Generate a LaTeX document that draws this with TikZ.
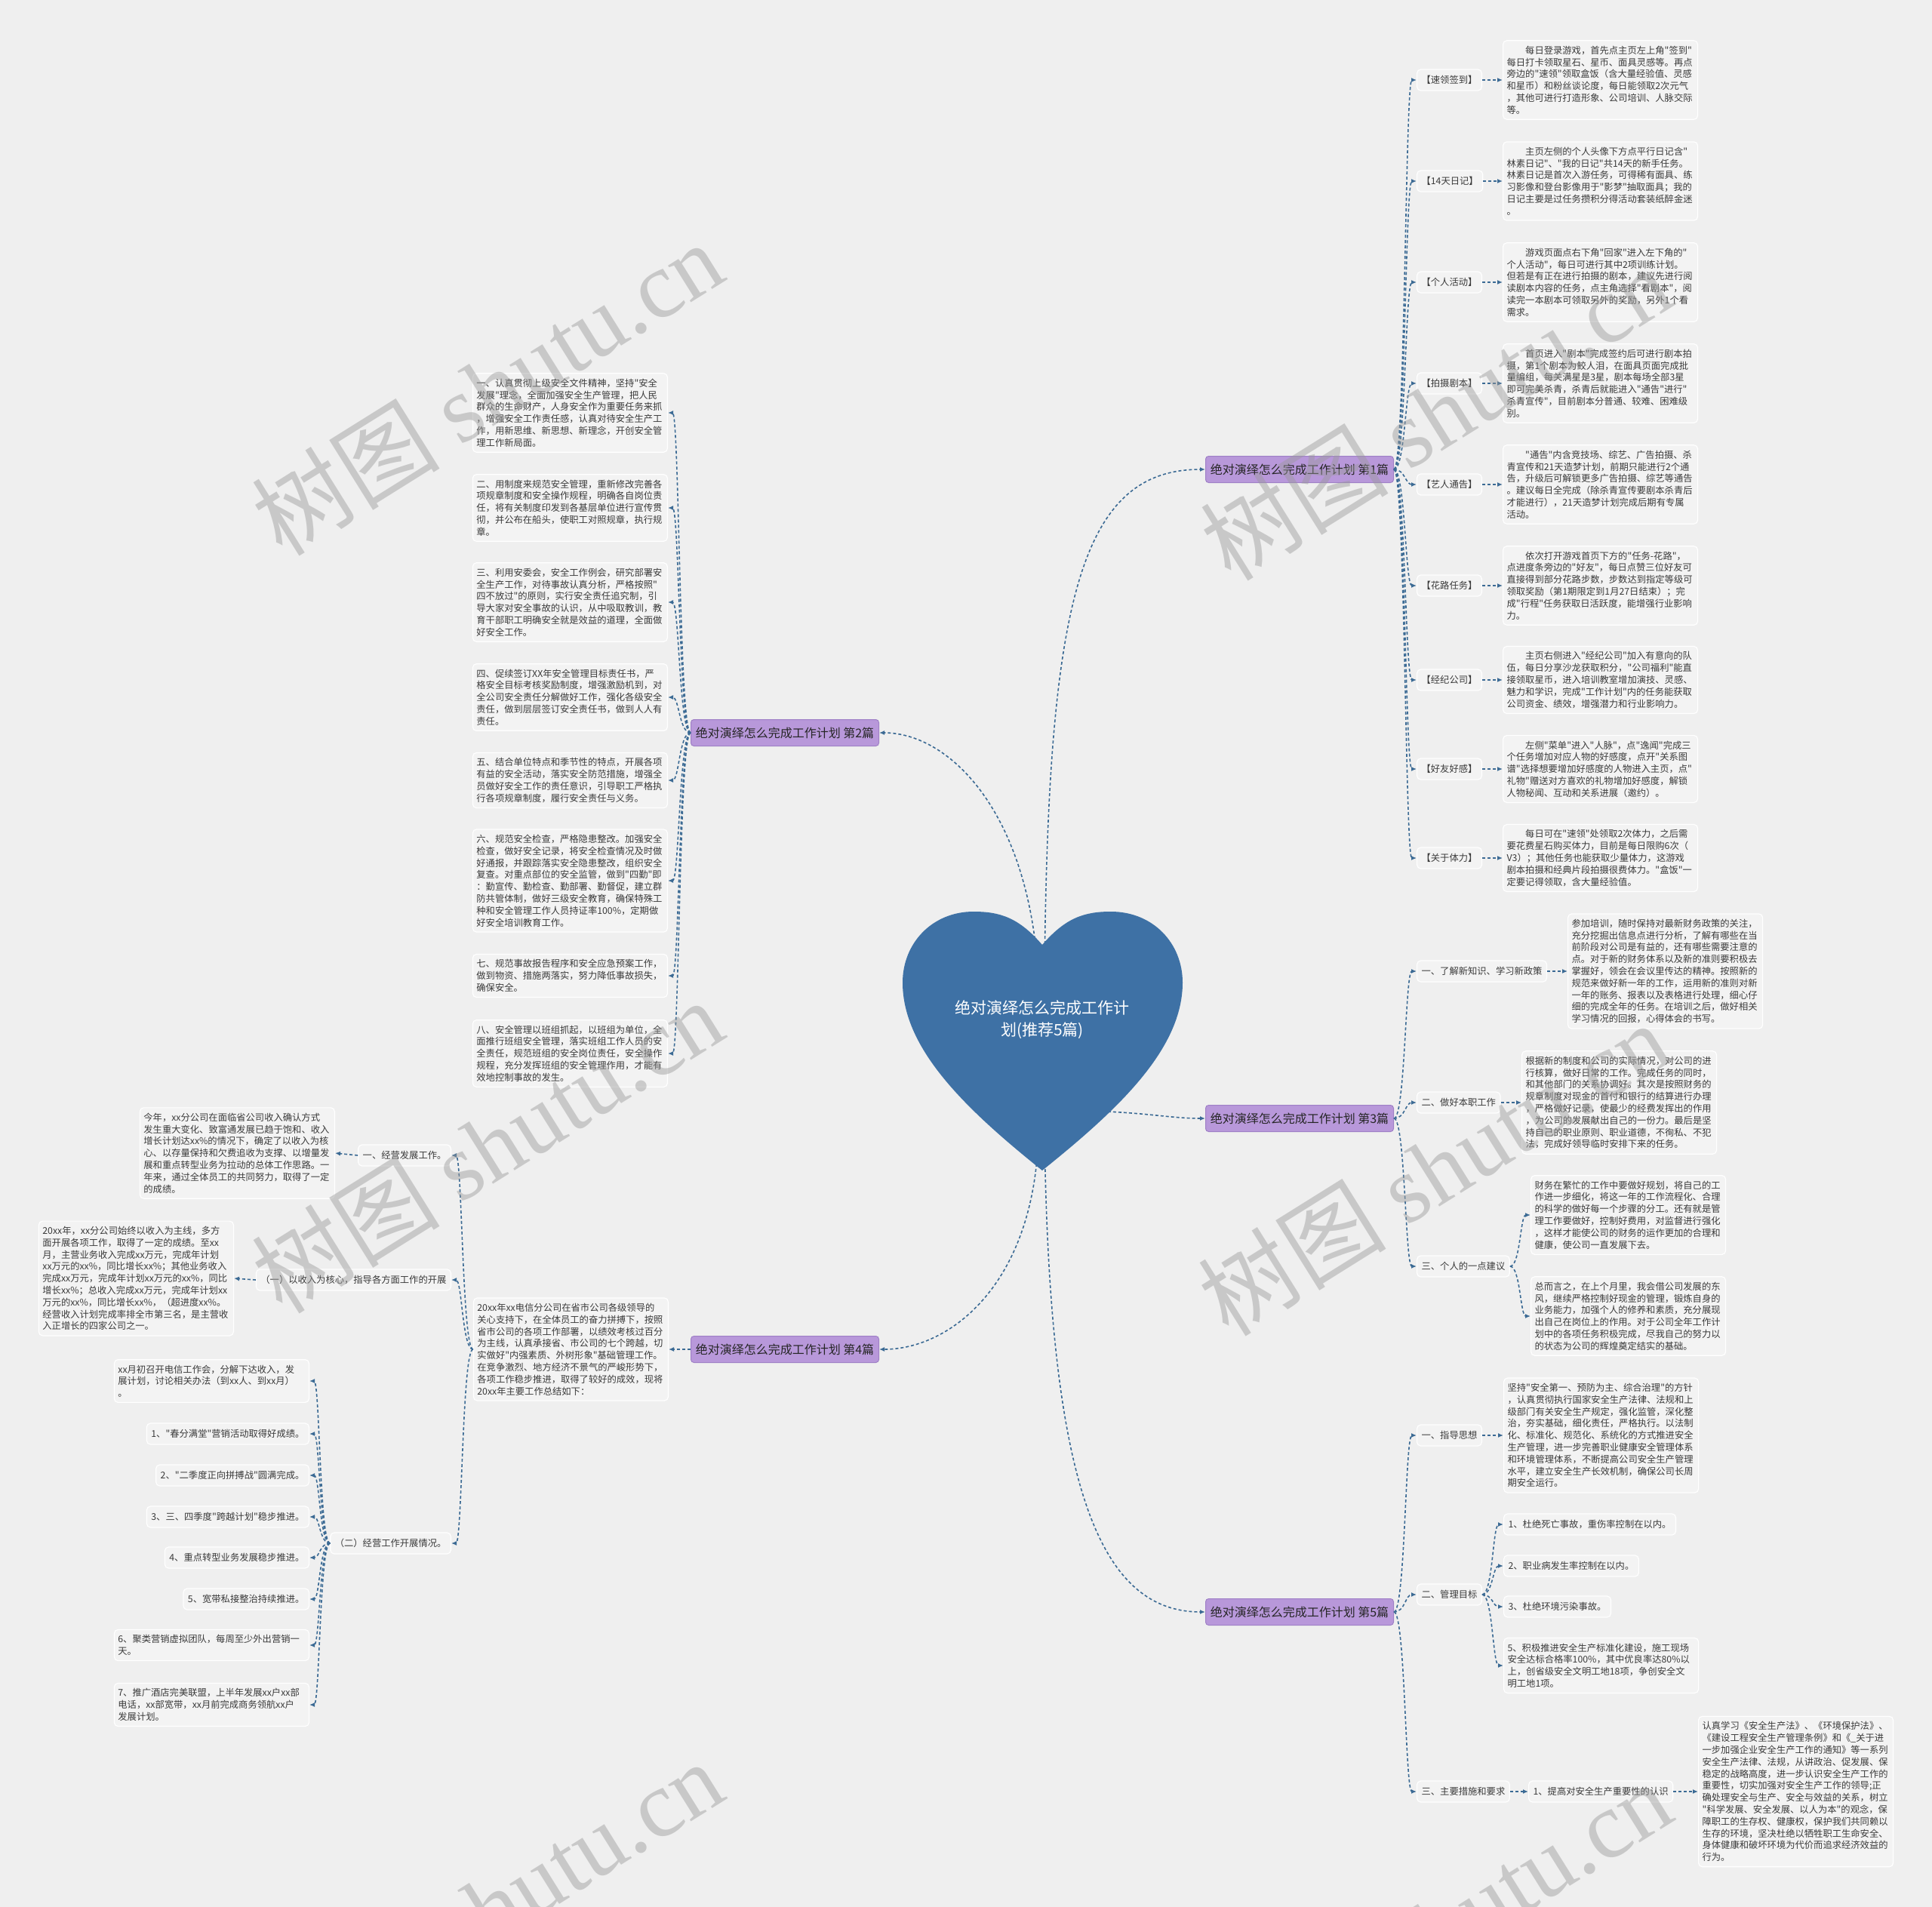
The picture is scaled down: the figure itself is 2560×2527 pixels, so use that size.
\documentclass[tikz,border=0pt]{standalone}
\usepackage{fontspec}
\setmainfont{Noto Sans CJK SC}[Ligatures=TeXOff]
\newfontfamily\wmlatin{Liberation Serif}
\usetikzlibrary{arrows.meta,calc}
\definecolor{bgc}{HTML}{EFEFEF}
\definecolor{boxc}{HTML}{F3F3F3}
\definecolor{txtc}{HTML}{3A3A3A}
\definecolor{linec}{HTML}{3B6A94}
\definecolor{brfill}{HTML}{B898DA}
\definecolor{brdraw}{HTML}{9F80C6}
\definecolor{heartc}{HTML}{3E71A5}
\definecolor{wmc}{HTML}{9A9A9A}
\newcommand\leaffont{\fontsize{12.3pt}{15.8pt}\selectfont}
\newcommand\lblfont{\fontsize{12.3pt}{15pt}\selectfont}
\newcommand\brfont{\fontsize{16pt}{18pt}\selectfont}
\newcommand\htitlefont{\fontsize{21pt}{29pt}\selectfont}
\newcommand\myind{\hspace*{2em}}
\tikzset{
  leaf/.style={draw=white, line width=1.2pt, fill=boxc, rounded corners=5pt, text width=248pt, inner xsep=5pt, inner ysep=7pt, align=left, font=\leaffont, text=txtc},
  lbl/.style={draw=white, line width=1.2pt, fill=boxc, rounded corners=5pt, inner xsep=6pt, inner ysep=0pt, minimum height=28pt, font=\lblfont, text=txtc},
  brn/.style={draw=brdraw, line width=1pt, fill=brfill, rounded corners=4pt, minimum width=249pt, minimum height=35pt, inner sep=0pt, font=\brfont, text=black!85},
  conn/.style={draw=linec, line width=1.6pt, dash pattern=on 4pt off 3pt, -{Latex[length=7pt,width=6pt]}},
  sc/.style={to path={let \p1=(\tikztostart), \p2=(\tikztotarget) in .. controls ({0.5*\x1+0.5*\x2},\y1) and ({0.5*\x1+0.5*\x2},\y2) .. (\tikztotarget)}},
  wm/.style={text=wmc, opacity=0.45, rotate=32, font=\fontsize{125pt}{125pt}\selectfont, inner sep=0pt}
}
\begin{document}
\begin{tikzpicture}[x=1pt,y=-1pt]
\useasboundingbox (0,0) rectangle (2560,2527);
\fill[bgc] (0,0) rectangle (2560,2527);

% branch nodes
\node[brn] (b1) at (1722,622) {绝对演绎怎么完成工作计划 第1篇};
\node[brn] (b2) at (1040,971) {绝对演绎怎么完成工作计划 第2篇};
\node[brn] (b3) at (1722,1482) {绝对演绎怎么完成工作计划 第3篇};
\node[brn] (b4) at (1040,1788) {绝对演绎怎么完成工作计划 第4篇};
\node[brn] (b5) at (1722,2136) {绝对演绎怎么完成工作计划 第5篇};

% heart connectors
\coordinate (hin1) at (1384,1300);
\coordinate (hin1b) at (1376,1300);
\coordinate (hin2) at (1384,1500);
\coordinate (hin2b) at (1376,1500);
\coordinate (hin3) at (1440,1472);
\draw[conn] (hin1) .. controls (1388,800) and (1430,622) .. (b1.west);
\draw[conn] (hin1b) .. controls (1366,1080) and (1260,971) .. (b2.east);
\draw[conn] (hin3) .. controls (1520,1474) and (1550,1482) .. (b3.west);
\draw[conn] (hin2b) .. controls (1372,1700) and (1260,1788) .. (b4.east);
\draw[conn] (hin2) .. controls (1390,1950) and (1450,2136) .. (b5.west);

% heart
\fill[heartc]
  (1381,1252) .. controls (1350,1216) and (1325,1208) .. (1290,1208)
  .. controls (1235,1208) and (1196,1250) .. (1196,1302)
  .. controls (1196,1390) and (1280,1470) .. (1381,1551)
  .. controls (1482,1470) and (1567,1390) .. (1567,1302)
  .. controls (1567,1250) and (1528,1208) .. (1472,1208)
  .. controls (1437,1208) and (1412,1216) .. (1381,1252) -- cycle;
\node[text=white, font=\htitlefont, align=center] (ctr) at (1381,1351) {绝对演绎怎么完成工作计\\划(推荐5篇)};

% ---------- 第1篇 ----------
\node[lbl, anchor=west] (a1) at (1877,106) {【速领签到】};
\node[lbl, anchor=west] (a2) at (1877,240) {【14天日记】};
\node[lbl, anchor=west] (a3) at (1877,374) {【个人活动】};
\node[lbl, anchor=west] (a4) at (1877,508) {【拍摄剧本】};
\node[lbl, anchor=west] (a5) at (1877,642) {【艺人通告】};
\node[lbl, anchor=west] (a6) at (1877,776) {【花路任务】};
\node[lbl, anchor=west] (a7) at (1877,901) {【经纪公司】};
\node[lbl, anchor=west] (a8) at (1877,1019) {【好友好感】};
\node[lbl, anchor=west] (a9) at (1877,1137) {【关于体力】};

\node[leaf, anchor=west] (ta1) at (1991,106) {\myind 每日登录游戏，首先点主页左上角"签到"\\每日打卡领取星石、星币、面具灵感等。再点\\旁边的"速领"领取盒饭（含大量经验值、灵感\\和星币）和粉丝谈论度，每日能领取2次元气\\，其他可进行打造形象、公司培训、人脉交际\\等。};
\node[leaf, anchor=west] (ta2) at (1991,240) {\myind 主页左侧的个人头像下方点平行日记含"\\林素日记"、"我的日记"共14天的新手任务。\\林素日记是首次入游任务，可得稀有面具、练\\习影像和登台影像用于"影梦"抽取面具；我的\\日记主要是过任务攒积分得活动套装纸醉金迷\\。};
\node[leaf, anchor=west] (ta3) at (1991,374) {\myind 游戏页面点右下角"回家"进入左下角的"\\个人活动"，每日可进行其中2项训练计划。\\但若是有正在进行拍摄的剧本，建议先进行阅\\读剧本内容的任务，点主角选择"看剧本"，阅\\读完一本剧本可领取另外的奖励，另外1个看\\需求。};
\node[leaf, anchor=west] (ta4) at (1991,508) {\myind 首页进入"剧本"完成签约后可进行剧本拍\\摄，第1个剧本为鲛人泪，在面具页面完成批\\量编组，每关满星是3星，剧本每场全部3星\\即可完美杀青，杀青后就能进入"通告"进行"\\杀青宣传"，目前剧本分普通、较难、困难级\\别。};
\node[leaf, anchor=west] (ta5) at (1991,642) {\myind "通告"内含竞技场、综艺、广告拍摄、杀\\青宣传和21天造梦计划，前期只能进行2个通\\告，升级后可解锁更多广告拍摄、综艺等通告\\。建议每日全完成（除杀青宣传要剧本杀青后\\才能进行），21天造梦计划完成后期有专属\\活动。};
\node[leaf, anchor=west] (ta6) at (1991,776) {\myind 依次打开游戏首页下方的"任务\mbox{-}花路"，\\点进度条旁边的"好友"，每日点赞三位好友可\\直接得到部分花路步数，步数达到指定等级可\\领取奖励（第1期限定到1月27日结束）；完\\成"行程"任务获取日活跃度，能增强行业影响\\力。};
\node[leaf, anchor=west] (ta7) at (1991,901) {\myind 主页右侧进入"经纪公司"加入有意向的队\\伍，每日分享沙龙获取积分，"公司福利"能直\\接领取星币，进入培训教室增加演技、灵感、\\魅力和学识，完成"工作计划"内的任务能获取\\公司资金、绩效，增强潜力和行业影响力。};
\node[leaf, anchor=west] (ta8) at (1991,1019) {\myind 左侧"菜单"进入"人脉"，点"逸闻"完成三\\个任务增加对应人物的好感度，点开"关系图\\谱"选择想要增加好感度的人物进入主页，点"\\礼物"赠送对方喜欢的礼物增加好感度，解锁\\人物秘闻、互动和关系进展（邀约）。};
\node[leaf, anchor=west] (ta9) at (1991,1137) {\myind 每日可在"速领"处领取2次体力，之后需\\要花费星石购买体力，目前是每日限购6次（\\V3）；其他任务也能获取少量体力，这游戏\\剧本拍摄和经典片段拍摄很费体力。"盒饭"一\\定要记得领取，含大量经验值。};

\foreach \q in {a1,a2,a3,a4,a5,a6,a7,a8,a9} {
  \draw[conn] (b1.east) to[sc] (\q.west);
  \draw[conn] (\q.east) -- (t\q.west);
}

% ---------- 第3篇 ----------
\node[lbl, anchor=west] (c1) at (1877,1287) {一、了解新知识、学习新政策};
\node[lbl, anchor=west] (c2) at (1877,1461) {二、做好本职工作};
\node[lbl, anchor=west] (c3) at (1877,1678) {三、个人的一点建议};
\node[leaf, anchor=west] (tc1) at (2077,1287) {参加培训，随时保持对最新财务政策的关注，\\充分挖掘出信息点进行分析，了解有哪些在当\\前阶段对公司是有益的，还有哪些需要注意的\\点。对于新的财务体系以及新的准则要积极去\\掌握好，领会在会议里传达的精神。按照新的\\规范来做好新一年的工作，运用新的准则对新\\一年的账务、报表以及表格进行处理，细心仔\\细的完成全年的任务。在培训之后，做好相关\\学习情况的回报，心得体会的书写。};
\node[leaf, anchor=west] (tc2) at (2016,1461) {根据新的制度和公司的实际情况，对公司的进\\行核算，做好日常的工作。完成任务的同时，\\和其他部门的关系协调好。其次是按照财务的\\规章制度对现金的首付和银行的结算进行办理\\，严格做好记录，使最少的经费发挥出的作用\\，为公司的发展献出自己的一份力。最后是坚\\持自己的职业原则、职业道德，不徇私、不犯\\法，完成好领导临时安排下来的任务。};
\node[leaf, anchor=west] (tc3a) at (2028,1610) {财务在繁忙的工作中要做好规划，将自己的工\\作进一步细化，将这一年的工作流程化、合理\\的科学的做好每一个步骤的分工。还有就是管\\理工作要做好，控制好费用，对监督进行强化\\，这样才能使公司的财务的运作更加的合理和\\健康，使公司一直发展下去。};
\node[leaf, anchor=west] (tc3b) at (2028,1744) {总而言之，在上个月里，我会借公司发展的东\\风，继续严格控制好现金的管理，锻炼自身的\\业务能力，加强个人的修养和素质，充分展现\\出自己在岗位上的作用。对于公司全年工作计\\划中的各项任务积极完成，尽我自己的努力以\\的状态为公司的辉煌奠定结实的基础。};
\foreach \q in {c1,c2,c3} { \draw[conn] (b3.east) to[sc] (\q.west); }
\draw[conn] (c1.east) -- (tc1.west);
\draw[conn] (c2.east) -- (tc2.west);
\draw[conn] (c3.east) to[sc] (tc3a.west);
\draw[conn] (c3.east) to[sc] (tc3b.west);

% ---------- 第5篇 ----------
\node[lbl, anchor=west] (e1) at (1877,1902) {一、指导思想};
\node[lbl, anchor=west] (e2) at (1877,2113) {二、管理目标};
\node[lbl, anchor=west] (e3) at (1877,2374) {三、主要措施和要求};
\node[leaf, anchor=west] (te1) at (1992,1902) {坚持"安全第一、预防为主、综合治理"的方针\\，认真贯彻执行国家安全生产法律、法规和上\\级部门有关安全生产规定，强化监管，深化整\\治，夯实基础，细化责任，严格执行。以法制\\化、标准化、规范化、系统化的方式推进安全\\生产管理，进一步完善职业健康安全管理体系\\和环境管理体系，不断提高公司安全生产管理\\水平，建立安全生产长效机制，确保公司长周\\期安全运行。};
\node[lbl, anchor=west] (e2a) at (1992,2020) {1、杜绝死亡事故，重伤率控制在以内。};
\node[lbl, anchor=west] (e2b) at (1992,2075) {2、职业病发生率控制在以内。};
\node[lbl, anchor=west] (e2c) at (1992,2129) {3、杜绝环境污染事故。};
\node[leaf, anchor=west] (e2d) at (1992,2207) {5、积极推进安全生产标准化建设，施工现场\\安全达标合格率100\%，其中优良率达80\%以\\上，创省级安全文明工地18项，争创安全文\\明工地1项。};
\node[lbl, anchor=west] (e3a) at (2025,2374) {1、提高对安全生产重要性的认识};
\node[leaf, anchor=west] (te3) at (2250,2374) {认真学习《安全生产法》、《环境保护法》、\\《建设工程安全生产管理条例》和《\_关于进\\一步加强企业安全生产工作的通知》等一系列\\安全生产法律、法规，从讲政治、促发展、保\\稳定的战略高度，进一步认识安全生产工作的\\重要性，切实加强对安全生产工作的领导;正\\确处理安全与生产、安全与效益的关系，树立\\"科学发展、安全发展、以人为本"的观念，保\\障职工的生存权、健康权，保护我们共同赖以\\生存的环境，坚决杜绝以牺牲职工生命安全、\\身体健康和破坏环境为代价而追求经济效益的\\行为。};
\foreach \q in {e1,e2,e3} { \draw[conn] (b5.east) to[sc] (\q.west); }
\draw[conn] (e1.east) -- (te1.west);
\foreach \q in {e2a,e2b,e2c,e2d} { \draw[conn] (e2.east) to[sc] (\q.west); }
\draw[conn] (e3.east) -- (e3a.west);
\draw[conn] (e3a.east) -- (te3.west);

% ---------- 第2篇 ----------
\node[leaf, anchor=east] (d1) at (885,547) {一、认真贯彻上级安全文件精神，坚持"安全\\发展"理念，全面加强安全生产管理，把人民\\群众的生命财产，人身安全作为重要任务来抓\\，增强安全工作责任感，认真对待安全生产工\\作，用新思维、新思想、新理念，开创安全管\\理工作新局面。};
\node[leaf, anchor=east] (d2) at (885,673) {二、用制度来规范安全管理，重新修改完善各\\项规章制度和安全操作规程，明确各自岗位责\\任，将有关制度印发到各基层单位进行宣传贯\\彻，并公布在船头，使职工对照规章，执行规\\章。};
\node[leaf, anchor=east] (d3) at (885,798) {三、利用安委会，安全工作例会，研究部署安\\全生产工作，对待事故认真分析，严格按照"\\四不放过"的原则，实行安全责任追究制，引\\导大家对安全事故的认识，从中吸取教训，教\\育干部职工明确安全就是效益的道理，全面做\\好安全工作。};
\node[leaf, anchor=east] (d4) at (885,924) {四、促续签订XX年安全管理目标责任书，严\\格安全目标考核奖励制度，增强激励机到，对\\全公司安全责任分解做好工作，强化各级安全\\责任，做到层层签订安全责任书，做到人人有\\责任。};
\node[leaf, anchor=east] (d5) at (885,1034) {五、结合单位特点和季节性的特点，开展各项\\有益的安全活动，落实安全防范措施，增强全\\员做好安全工作的责任意识，引导职工严格执\\行各项规章制度，履行安全责任与义务。};
\node[leaf, anchor=east] (d6) at (885,1167) {六、规范安全检查，严格隐患整改。加强安全\\检查，做好安全记录，将安全检查情况及时做\\好通报，并跟踪落实安全隐患整改，组织安全\\复查。对重点部位的安全监管，做到"四勤"即\\：勤宣传、勤检查、勤部署、勤督促，建立群\\防共管体制，做好三级安全教育，确保特殊工\\种和安全管理工作人员持证率100\%，定期做\\好安全培训教育工作。};
\node[leaf, anchor=east] (d7) at (885,1293) {七、规范事故报告程序和安全应急预案工作，\\做到物资、措施两落实，努力降低事故损失，\\确保安全。};
\node[leaf, anchor=east] (d8) at (885,1396) {八、安全管理以班组抓起，以班组为单位，全\\面推行班组安全管理，落实班组工作人员的安\\全责任，规范班组的安全岗位责任，安全操作\\规程，充分发挥班组的安全管理作用，才能有\\效地控制事故的发生。};
\foreach \q in {d1,d2,d3,d4,d5,d6,d7,d8} { \draw[conn] (b2.west) to[sc] (\q.east); }

% ---------- 第4篇 ----------
\node[leaf, anchor=east] (f0) at (886,1788) {20xx年xx电信分公司在省市公司各级领导的\\关心支持下，在全体员工的奋力拼搏下，按照\\省市公司的各项工作部署，以绩效考核过百分\\为主线，认真承接省、市公司的七个跨越，切\\实做好"内强素质、外树形象"基础管理工作。\\在竞争激烈、地方经济不景气的严峻形势下，\\各项工作稳步推进，取得了较好的成效，现将\\20xx年主要工作总结如下：};
\node[lbl, anchor=east] (f1) at (598,1531) {一、经营发展工作。};
\node[lbl, anchor=east] (f2) at (598,1696) {（一）以收入为核心，指导各方面工作的开展};
\node[lbl, anchor=east] (f3) at (598,2045) {（二）经营工作开展情况。};
\node[leaf, anchor=east] (tf1) at (444,1528) {今年，xx分公司在面临省公司收入确认方式\\发生重大变化、致富通发展已趋于饱和、收入\\增长计划达xx\%的情况下，确定了以收入为核\\心、以存量保持和欠费追收为支撑、以增量发\\展和重点转型业务为拉动的总体工作思路。一\\年来，通过全体员工的共同努力，取得了一定\\的成绩。};
\node[leaf, anchor=east] (tf2) at (310,1694) {20xx年，xx分公司始终以收入为主线，多方\\面开展各项工作，取得了一定的成绩。至xx\\月，主营业务收入完成xx万元，完成年计划\\xx万元的xx\%，同比增长xx\%；其他业务收入\\完成xx万元，完成年计划xx万元的xx\%，同比\\增长xx\%；总收入完成xx万元，完成年计划xx\\万元的xx\%，同比增长xx\%，（超进度xx\%。\\经营收入计划完成率排全市第三名，是主营收\\入正增长的四家公司之一。};
\node[leaf, anchor=east] (g1) at (410,1830) {xx月初召开电信工作会，分解下达收入，发\\展计划，讨论相关办法（到xx人、到xx月）\\。};
\node[lbl, anchor=east] (g2) at (410,1900) {1、"春分满堂"营销活动取得好成绩。};
\node[lbl, anchor=east] (g3) at (410,1955) {2、"二季度正向拼搏战"圆满完成。};
\node[lbl, anchor=east] (g4) at (410,2010) {3、三、四季度"跨越计划"稳步推进。};
\node[lbl, anchor=east] (g5) at (410,2064) {4、重点转型业务发展稳步推进。};
\node[lbl, anchor=east] (g6) at (410,2119) {5、宽带私接整治持续推进。};
\node[leaf, anchor=east] (g7) at (410,2180) {6、聚类营销虚拟团队，每周至少外出营销一\\天。};
\node[leaf, anchor=east] (g8) at (410,2259) {7、推广酒店完美联盟，上半年发展xx户xx部\\电话，xx部宽带，xx月前完成商务领航xx户\\发展计划。};
\draw[conn] (b4.west) -- (f0.east);
\foreach \q in {f1,f2,f3} { \draw[conn] (f0.west) to[sc] (\q.east); }
\draw[conn] (f1.west) -- (tf1.east);
\draw[conn] (f2.west) -- (tf2.east);
\foreach \q in {g1,g2,g3,g4,g5,g6,g7,g8} { \draw[conn] (f3.west) to[sc] (\q.east); }

% watermarks
\foreach \wx/\wy in {645/514, 1902/547, 645/1518, 1899/1548, 645/2527, 1902/2555} {
  \node[wm] at (\wx,\wy) {树图 {\wmlatin shutu.cn}};
}
\end{tikzpicture}
\end{document}
